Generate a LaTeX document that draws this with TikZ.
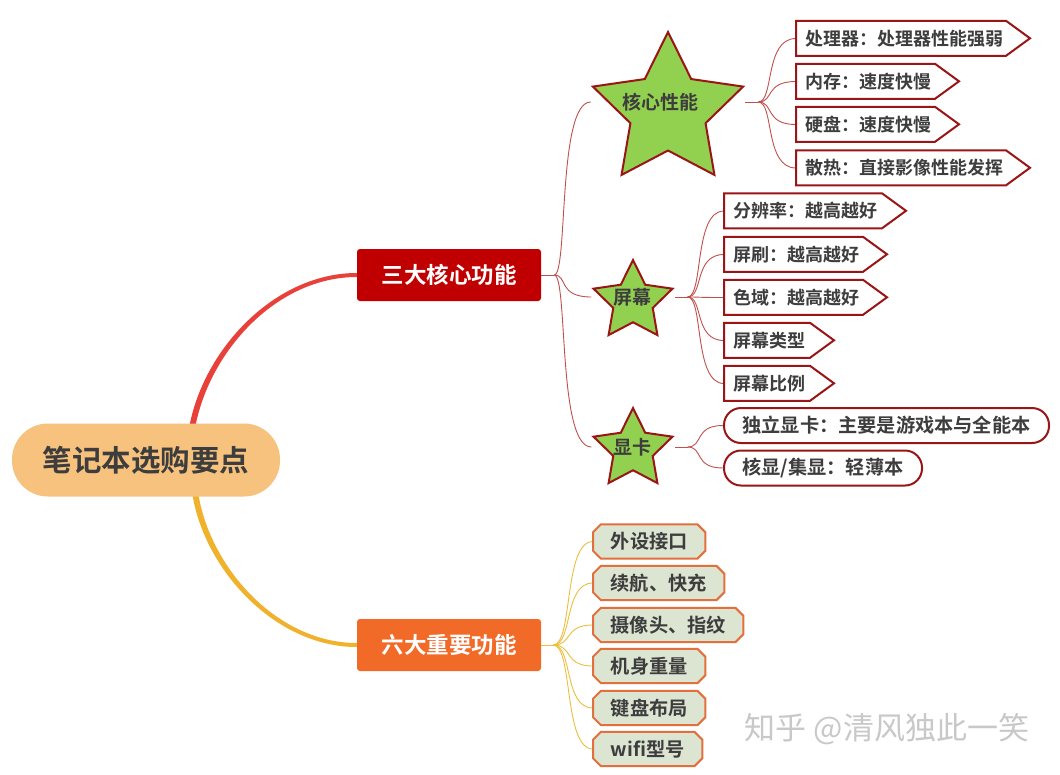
\documentclass[tikz,border=0pt]{standalone}
\usepackage{fontspec}
\setmainfont{Noto Sans CJK SC}[BoldFont={Noto Sans CJK SC Bold}]
\usetikzlibrary{shapes.geometric,calc}
\pgfdeclarelayer{back}\pgfdeclarelayer{mid}\pgfsetlayers{back,mid,main}
\definecolor{rootfill}{HTML}{F7C27E}
\definecolor{txt}{HTML}{3D3D3D}
\definecolor{redbox}{HTML}{C00000}
\definecolor{orangebox}{HTML}{F26A28}
\definecolor{stargreen}{HTML}{92D050}
\definecolor{darkred}{HTML}{9A1515}
\definecolor{redline}{HTML}{C0504D}
\definecolor{yelline}{HTML}{EDBE3C}
\definecolor{mainred}{HTML}{E8413A}
\definecolor{mainyel}{HTML}{F0B22C}
\definecolor{itemfill}{HTML}{DCE4D2}
\definecolor{itemedge}{HTML}{E2703C}
\definecolor{wm}{HTML}{C8C8C8}
\tikzset{
  every node/.style={font=\bfseries\fontsize{18}{21}\selectfont, text=txt},
  rootbox/.style={rectangle, rounded corners=36pt, fill=rootfill, minimum width=268pt, minimum height=73pt, inner sep=0pt, font=\bfseries\fontsize{29.5}{33}\selectfont},
  mainbox/.style={rectangle, rounded corners=3pt, minimum width=184pt, minimum height=52pt, inner sep=0pt, text=white, font=\bfseries\fontsize{22.5}{25}\selectfont},
  starbox/.style={star, star points=5, star point ratio=2, draw=darkred, line width=2pt, fill=stargreen, inner sep=0pt},
  startext/.style={inner sep=0pt, font=\bfseries\fontsize{19}{21}\selectfont},
  tagtext/.style={rectangle, inner xsep=9pt, inner ysep=0pt, minimum height=35pt, anchor=west, font=\bfseries\fontsize{18}{21}\selectfont},
  tagline/.style={draw=darkred, line width=2pt, fill=white, line join=miter},
  pillbox/.style={rectangle, rounded corners=17pt, draw=darkred, line width=2pt, fill=white, minimum height=35pt, inner sep=0pt, font=\bfseries\fontsize{19.2}{21}\selectfont},
  itemtext/.style={rectangle, inner sep=0pt, minimum height=34pt, anchor=west, font=\bfseries\fontsize{19.2}{21}\selectfont},
  itemline/.style={draw=itemedge, line width=2pt, fill=itemfill},
  redthin/.style={draw=redline, line width=0.9pt},
  yelthin/.style={draw=yelline, line width=0.9pt},
}
\newcommand\tagnode[5]{%
  \node[tagtext] (#1) at (#2,#3) {#5};
  \begin{pgfonlayer}{mid}
    \draw[tagline] (#1.north west) -- ++(#4,0) -- ++(24,17.5) -- ++(-24,17.5) -- ++(-#4,0) -- cycle;
  \end{pgfonlayer}}
\newcommand\itemnode[5]{%
  \node[itemtext, minimum width=#4pt] (#1) at (#2,#3) {#5};
  \begin{pgfonlayer}{mid}
    \draw[itemline] ($(#1.north west)+(8,0)$) -- ($(#1.north east)+(-8,0)$) -- ($(#1.north east)+(0,8)$) -- ($(#1.south east)+(0,-8)$) -- ($(#1.south east)+(-8,0)$) -- ($(#1.south west)+(8,0)$) -- ($(#1.south west)+(0,-8)$) -- ($(#1.north west)+(0,8)$) -- cycle;
  \end{pgfonlayer}}
\begin{document}
\begin{tikzpicture}[x=1pt, y=-1pt]
\useasboundingbox (0,0) rectangle (1060,774);
\begin{pgfonlayer}{back}
  \fill[white] (0,0) rectangle (1060,774);
\end{pgfonlayer}

% main nodes
\node[rootbox] (root) at (146,460) {笔记本选购要点};
\node[mainbox, fill=redbox] (b1) at (449,275) {三大核心功能};
\node[mainbox, fill=orangebox] (b2) at (449,645) {六大重要功能};

% stars
\node[starbox, minimum size=158pt] (s1) at (668,111) {};
\node[startext] (s1t) at (660,102) {核心性能};
\node[starbox, minimum size=83pt] (s2) at (633,301.5) {};
\node[startext] (s2t) at (632,297) {屏幕};
\node[starbox, minimum size=83pt] (s3) at (633,449.5) {};
\node[startext] (s3t) at (632,447) {显卡};

% tags
\tagnode{t1}{796}{38.5}{210}{处理器：处理器性能强弱}
\tagnode{t2}{796}{81.5}{139}{内存：速度快慢}
\tagnode{t3}{796}{124.5}{139}{硬盘：速度快慢}
\tagnode{t4}{796}{168}{210}{散热：直接影像性能发挥}
\tagnode{t5}{724}{211}{158}{分辨率：越高越好}
\tagnode{t6}{724}{254.5}{139}{屏刷：越高越好}
\tagnode{t7}{724}{297.5}{139}{色域：越高越好}
\tagnode{t8}{724}{340.5}{86}{屏幕类型}
\tagnode{t9}{724}{383.5}{86}{屏幕比例}

% pills
\node[pillbox, minimum width=325pt] (p1) at (886.5,425.5) {独立显卡：主要是游戏本与全能本};
\node[pillbox, minimum width=198pt] (p2) at (823,468) {核显/集显：轻薄本};

% items
\itemnode{i1}{593}{541.5}{112}{外设接口}
\itemnode{i2}{593}{583}{131}{续航、快充}
\itemnode{i3}{593}{625}{150}{摄像头、指纹}
\itemnode{i4}{593}{666}{112}{机身重量}
\itemnode{i5}{593}{708}{112}{键盘布局}
\itemnode{i6}{593}{749}{109}{wifi型号}

% watermark
\node[font=\fontsize{31}{34}\selectfont, text=wm] (wmark) at (887,729) {知乎 @清风独此一笑};

% connector helper coordinates
\coordinate (j1) at ($(b1.east)+(13,0)$);
\coordinate (j2) at ($(b2.east)+(12,0)$);
\coordinate (s1in) at (s1.outer point 2 |- s1t);
\coordinate (s2in) at (s2.outer point 2 |- s2t);
\coordinate (s3in) at (s3.outer point 2 |- s3t);
\coordinate (s1out) at (s1.outer point 5 |- s1t);
\coordinate (s2out) at (s2.outer point 5 |- s2t);
\coordinate (s3out) at (s3.outer point 5 |- s3t);
\coordinate (k1) at ($(s1out)+(13,0)$);
\coordinate (k2) at ($(s2out)+(13,0)$);
\coordinate (k3) at ($(s3out)+(13,0)$);

\begin{pgfonlayer}{back}
  % thick main branches
  \fill[mainred] ($(root.north)+(43,5)$) .. controls ($(root.north)+(57,-74)$) and ($(b1.west)+(-82,-2)$) .. ($(b1.west)+(0,-2)$)
     -- ($(b1.west)+(0,2)$) .. controls ($(b1.west)+(-80,2)$) and ($(root.north)+(63,-72)$) .. ($(root.north)+(49,5)$) -- cycle;
  \fill[mainyel] ($(root.south)+(46,-5)$) .. controls ($(root.south)+(57,72)$) and ($(b2.west)+(-82,2)$) .. ($(b2.west)+(0,2)$)
     -- ($(b2.west)+(0,-2)$) .. controls ($(b2.west)+(-80,-2)$) and ($(root.south)+(63,70)$) .. ($(root.south)+(52,-5)$) -- cycle;
  % box1 to stars
  \draw[redthin] (b1.east) -- (j1);
  \foreach \tn in {s1in,s2in,s3in}
    \draw[redthin] (j1) .. controls ($(j1)+(14,0)$) and ($(j1|-\tn)+(3,0)$) .. (\tn);
  % stars to tags
  \draw[redthin] (s1out) -- (k1);
  \foreach \tn in {t1,t2,t3,t4}
    \draw[redthin] (k1) .. controls ($(k1)+(16,0)$) and ($(k1|-\tn.west)+(6,0)$) .. (\tn.west);
  \draw[redthin] (s2out) -- (k2);
  \foreach \tn in {t5,t6,t7,t8,t9}
    \draw[redthin] (k2) .. controls ($(k2)+(16,0)$) and ($(k2|-\tn.west)+(6,0)$) .. (\tn.west);
  \draw[redthin] (s3out) -- (k3);
  \foreach \tn in {p1,p2}
    \draw[redthin] (k3) .. controls ($(k3)+(16,0)$) and ($(k3|-\tn.west)+(6,0)$) .. (\tn.west);
  % box2 to items
  \draw[yelthin] (b2.east) -- (j2);
  \foreach \tn in {i1,i2,i3,i4,i5,i6}
    \draw[yelthin] (j2) .. controls ($(j2)+(20,0)$) and ($(j2|-\tn.west)+(10,0)$) .. (\tn.west);
\end{pgfonlayer}
\end{tikzpicture}
\end{document}
